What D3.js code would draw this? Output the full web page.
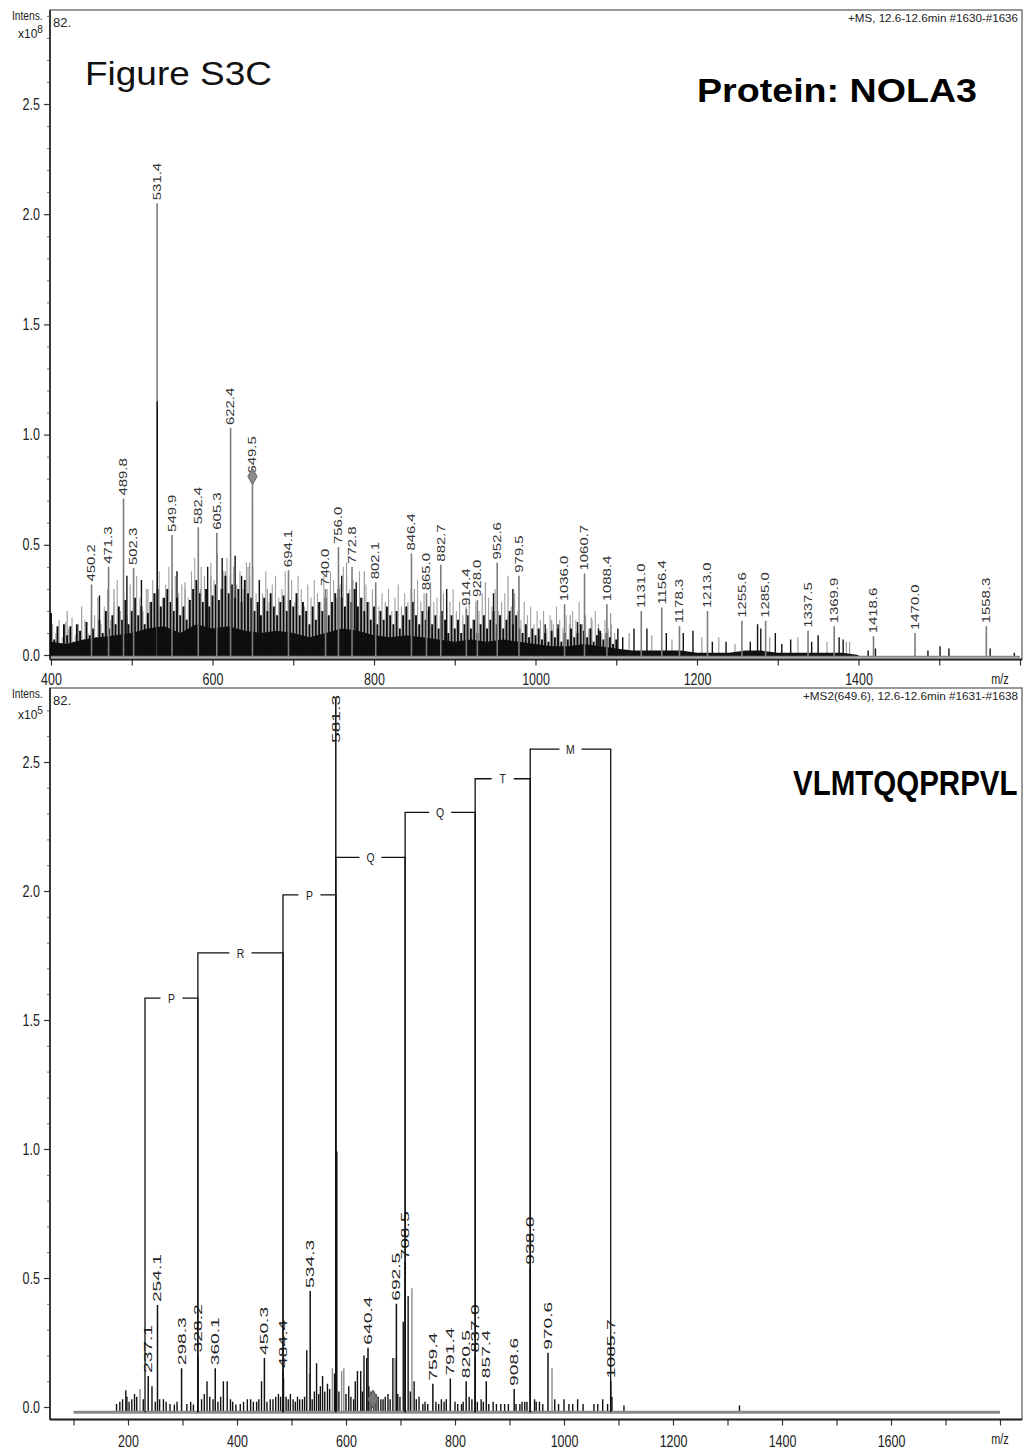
<!DOCTYPE html>
<html>
<head>
<meta charset="utf-8">
<script src="https://cdn.jsdelivr.net/npm/d3@7"></script>
<style>
body { margin: 0; background: #fff; }
text { font-family: "Liberation Sans", Arial, sans-serif; }
</style>
</head>
<body>
<div id="chart"></div>
<script>
// ---------- MS spectrum (top), intensity x10^8 ----------
var msLabeled = [
  [450.2,0.32],[471.3,0.40],[489.8,0.71],[502.3,0.395],[531.4,2.05],[549.9,0.545],
  [582.4,0.58],[605.3,0.555],[622.4,1.03],[649.5,0.81],[694.1,0.385],[740.0,0.30],
  [756.0,0.49],[772.8,0.40],[802.1,0.33],[846.4,0.46],[865.0,0.28],[882.7,0.41],
  [914.4,0.21],[928.0,0.25],[952.6,0.42],[979.5,0.36],[1036.0,0.23],[1060.7,0.37],
  [1088.4,0.23],[1131.0,0.20],[1156.4,0.215],[1178.3,0.13],[1213.0,0.20],[1255.6,0.155],
  [1285.0,0.155],[1337.5,0.11],[1369.9,0.13],[1418.6,0.085],[1470.0,0.10],[1558.3,0.13]
];
var msPrecursor = [649.5, 0.81];

// unlabeled peaks: [m/z, intensity, 0 = black / 1 = grey]
var msExtra = [
  [531.6,1.15,0],[535,0.20,1],[585,0.30,1],[644,0.40,1],[646,0.42,1],
  [420,0.20,1],[438,0.22,1],[460,0.27,0],[478,0.30,1],[494,0.36,0],[512,0.34,0],[520,0.30,1],
  [556,0.38,0],[566,0.33,1],[594,0.40,0],[598,0.36,1],[612,0.44,0],[616,0.38,1],[628,0.45,0],
  [636,0.36,0],[658,0.34,0],[668,0.30,1],[760,0.36,0],[766,0.42,1],[778,0.33,0],[788,0.38,1],
  [850,0.30,1],[870,0.33,1],[890,0.30,0],[938,0.33,1],[948,0.28,0],[966,0.36,1],[972,0.30,0],
  [974,0.28,1],[1012,0.14,0],[1020,0.16,1],[1028,0.14,0],[1043,0.18,1],[1052,0.15,0],
  [1069,0.17,1],[1078,0.12,0],[1093,0.19,1],[1102,0.12,0],
  [1108,0.08,0],[1116,0.10,1],[1122,0.12,0],[1138,0.12,0],[1144,0.09,1],[1162,0.10,0],
  [1169,0.07,1],[1183,0.10,0],[1195,0.11,0],[1206,0.08,1],[1219,0.06,0],[1227,0.08,1],
  [1236,0.06,0],[1247,0.05,1],[1266,0.06,0],[1275,0.14,0],[1279,0.12,0],[1290,0.08,1],
  [1297,0.10,0],[1305,0.05,0],[1316,0.07,0],[1325,0.08,1],[1342,0.06,0],[1350,0.09,0],
  [1361,0.06,1],[1376,0.08,0],[1381,0.07,0],[1385,0.06,1],[1389,0.06,1],[1412,0.02,0],
  [1421,0.03,0],[1486,0.02,0],[1501,0.04,0],[1512,0.03,0],[1563,0.03,0],[1593,0.01,0]
];

// dense baseline grass, hundredths of 10^8, black from 400 every 4, grey from 402 every 4
var msGrassBlack = [
  19,7,13,5,14,9,13,6,14,11,5,15,9,
  12,8,16,10,20,12,18,14,22,16,25,14,20,26,18,22,14,19,
  24,28,30,22,26,30,24,20,26,18,
  22,16,25,30,34,28,24,30,22,27,32,25,30,36,28,32,26,30,24,34,28,26,20,
  24,18,26,20,28,22,18,24,27,20,25,22,28,18,24,20,14,22,16,24,20,26,18,24,28,30,26,22,28,24,30,22,26,20,24,16,22,
  14,20,16,22,18,14,20,12,18,22,16,24,18,14,20,16,22,14,18,12,20,16,10,18,12,
  16,10,14,18,12,16,10,14,18,12,16,20,14,18,12,16,20,14,18,12,10,14,8,12,9,
  12,7,10,6,11,8,12,6,10,7,12,8,10,14,11,8,12,6,9,11,7,10,8,5,7
];
var msGrassGray = [
  14,10,16,8,15,12,17,9,14,11,16,10,20,
  18,26,14,22,30,16,24,34,20,28,18,32,22,36,26,20,30,24,
  34,28,38,26,32,40,30,36,28,32,
  30,26,38,44,32,40,36,28,42,34,46,30,38,44,36,40,32,38,30,42,36,40,28,
  34,28,38,24,32,36,26,30,38,28,34,24,36,30,22,32,26,34,28,24,36,30,38,34,26,32,40,36,30,34,28,38,26,32,24,30,26,
  22,28,24,30,20,26,32,22,28,24,30,26,34,24,28,20,30,24,26,18,28,22,24,30,20,
  24,18,22,26,16,24,20,28,18,26,22,30,20,24,28,18,22,26,20,16,24,18,22,14,20,
  16,20,12,18,14,22,16,12,18,14,20,16,24,14,18,12,16,20,14,10,16,12,14,10
];
// solid dark floor, hundredths of 10^8, every 20 from 400
var msBase = [6,5,7,8,9,10,12,13,10,14,12,13,11,10,11,10,8,10,12,11,9,8,9,8,7,6,7,6,7,6,
  5,4,4,5,4,3,2,2,2,2,1,1,1,2,2,1,1,1,1,1,0];

var msXTicks = [400,500,600,700,800,900,1000,1100,1200,1300,1400,1500,1600];
var msXLabels = [400,600,800,1000,1200,1400];
var msYTicks = [0,0.5,1,1.5,2,2.5];
var msYMinor = [0.1,0.2,0.3,0.4,0.6,0.7,0.8,0.9,1.1,1.2,1.3,1.4,1.6,1.7,1.8,1.9,2.1,2.2,2.3,2.4,2.6,2.7,2.8,2.9];

// ---------- MS2 spectrum (bottom), intensity x10^5 ----------
var ms2Labeled = [
  [237.1,0.12],[254.1,0.395],[298.3,0.15],[328.2,0.20],[360.1,0.15],[450.3,0.19],[484.4,0.14],
  [534.3,0.45],[581.3,2.75],[640.4,0.23],[692.5,0.40],[708.5,0.56],[759.4,0.09],[791.4,0.11],
  [820.5,0.10],[837.0,0.20],[857.4,0.10],[908.6,0.07],[938.0,0.54],[970.6,0.21],[1085.7,0.10]
];
var ms2Precursor = [649.6, 0.03];
var ms2Extra = [
  [179,0.012,0],[185,0.02,0],[190,0.03,0],[196,0.065,0],[198,0.04,0],[202,0.02,0],[207,0.03,0],
  [212,0.05,0],[216,0.04,0],[222,0.07,1],[228,0.03,0],[244,0.08,0],[250,0.02,0],[258,0.03,0],
  [265,0.03,0],[270,0.02,0],[277,0.012,0],[285,0.01,0],[290,0.02,0],[308,0.012,0],[315,0.02,0],
  [320,0.01,0],[335,0.03,0],[340,0.05,0],[345,0.10,0],[350,0.04,0],[356,0.03,0],[365,0.02,0],
  [370,0.04,0],[375,0.10,0],[382,0.10,0],[388,0.03,0],[392,0.02,0],[398,0.01,0],[406,0.012,0],
  [412,0.02,0],[419,0.03,0],[425,0.03,0],[430,0.02,0],[436,0.02,0],[440,0.03,0],[445,0.10,0],
  [455,0.02,0],[461,0.03,0],[466,0.03,0],[471,0.04,0],[476,0.05,0],[480,0.04,0],[486,0.11,1],
  [490,0.04,0],[494,0.03,0],[498,0.05,0],[503,0.03,0],[507,0.02,0],[511,0.04,0],[515,0.03,0],
  [520,0.03,0],[524,0.04,0],[528,0.22,0],[533,0.13,1],[538,0.03,0],[542,0.06,0],[546,0.17,0],
  [550,0.05,0],[553,0.08,0],[557,0.12,0],[561,0.06,0],[566,0.09,0],[570,0.07,0],[575,0.15,1],
  [579,0.13,0],[583.2,0.99,0],[587,0.06,0],[592,0.14,1],[596,0.15,1],[600,0.05,0],[605,0.08,0],
  [609,0.04,0],[614,0.03,0],[617,0.10,0],[621,0.14,0],[627,0.14,0],[630,0.06,0],[633,0.20,0],
  [638,0.19,0],[642,0.08,0],[646,0.06,0],[651,0.06,0],[655,0.05,0],[659,0.04,0],[664,0.03,0],
  [668,0.03,0],[672,0.04,0],[677,0.05,0],[681,0.03,0],[686,0.19,0],[690,0.19,1],[695,0.05,0],
  [699,0.04,0],[705,0.33,0],[714,0.43,0],[718,0.06,0],[721,0.46,1],[725,0.10,0],[729,0.03,0],
  [734,0.04,0],[741,0.012,0],[745,0.02,0],[750,0.012,0],[765,0.02,0],[770,0.012,0],[775,0.03,0],
  [780,0.02,0],[784,0.03,0],[800,0.02,0],[805,0.012,0],[812,0.012,0],[815,0.02,0],[826,0.04,0],
  [831,0.03,0],[841,0.02,0],[848,0.03,0],[852,0.02,0],[862,0.012,0],[870,0.02,0],[876,0.012,0],
  [884,0.012,0],[891,0.012,0],[898,0.012,0],[912,0.012,0],[919,0.012,0],[923,0.02,0],[928,0.02,0],
  [932,0.02,0],[946,0.03,0],[949,0.02,0],[955,0.02,0],[961,0.012,0],[978,0.15,1],[983,0.03,0],
  [990,0.012,0],[1000,0.03,0],[1009,0.012,0],[1016,0.012,0],[1025,0.03,0],[1035,0.012,0],
  [1055,0.012,0],[1062,0.012,0],[1071,0.03,0],[1080,0.012,0],[1088,0.04,0],[1110,0.006,0],[1322,0.006,0]
];

// y-ion ladder annotation
var ladderIons = [231.2, 328.2, 484.4, 581.3, 708.5, 837.0, 938.0, 1085.7];
var ladderResidues = ["P", "R", "P", "Q", "Q", "T", "M"];
var ladderHeights = [1.585, 1.76, 1.985, 2.13, 2.305, 2.435, 2.55];

var ms2XTicks = [100,200,300,400,500,600,700,800,900,1000,1100,1200,1300,1400,1500,1600,1700,1800];
var ms2XLabels = [200,400,600,800,1000,1200,1400,1600];
var ms2YTicks = [0,0.5,1,1.5,2,2.5];
var ms2YMinor = [0.1,0.2,0.3,0.4,0.6,0.7,0.8,0.9,1.1,1.2,1.3,1.4,1.6,1.7,1.8,1.9,2.1,2.2,2.3,2.4,2.6,2.7];

var width = 1033, height = 1452;
var svg = d3.select('#chart').append('svg')
    .attr('width', width)
    .attr('height', height);

var squeeze = 0.78;

function panel(opt) {
    var g = svg.append('g');
    var x = d3.scaleLinear().domain(opt.xDomain).range(opt.xRange);
    var y = d3.scaleLinear().domain([0, 2.5]).range(opt.yRange);

    g.append('clipPath').attr('id', opt.id)
        .append('rect')
        .attr('x', opt.left).attr('y', opt.top)
        .attr('width', opt.right - opt.left).attr('height', opt.bottom - opt.top);

    // frame
    g.append('rect')
        .attr('x', opt.left).attr('y', opt.top)
        .attr('width', opt.right - opt.left).attr('height', opt.bottom - opt.top)
        .attr('fill', 'none').attr('stroke', '#555').attr('stroke-width', 1.2);

    // x axis
    var xAxis = g.append('g')
        .attr('transform', 'translate(0,' + opt.bottom + ')')
        .call(d3.axisBottom(x).tickValues(opt.xTicks).tickSize(6).tickSizeOuter(0)
            .tickPadding(opt.xPad)
            .tickFormat(function (d) { return opt.xLabels.indexOf(d) >= 0 ? d : ''; }));
    xAxis.select('.domain').remove();
    xAxis.selectAll('line').attr('stroke', '#333').attr('stroke-width', 1.2);
    xAxis.selectAll('text').attr('font-size', 16).attr('fill', '#222')
        .attr('font-family', '"Liberation Sans", Arial, sans-serif')
        .attr('transform', 'scale(' + squeeze + ',1)');

    // y axis
    var yAxis = g.append('g')
        .attr('transform', 'translate(' + opt.left + ',0)')
        .call(d3.axisLeft(y).tickValues(opt.yTicks).tickSize(6).tickSizeOuter(0)
            .tickPadding(7).tickFormat(d3.format('.1f')));
    yAxis.select('.domain').remove();
    yAxis.selectAll('line').attr('stroke', '#333').attr('stroke-width', 1.2);
    yAxis.selectAll('text').attr('font-size', 16).attr('fill', '#222')
        .attr('font-family', '"Liberation Sans", Arial, sans-serif')
        .attr('transform', 'scale(' + squeeze + ',1)');

    var yMinor = g.append('g')
        .attr('transform', 'translate(' + opt.left + ',0)')
        .call(d3.axisLeft(y).tickValues(opt.yMinor).tickSize(3).tickSizeOuter(0).tickFormat(''));
    yMinor.select('.domain').remove();
    yMinor.selectAll('line').attr('stroke', '#777');

    // axis lines
    g.append('line').attr('x1', opt.left).attr('x2', opt.left)
        .attr('y1', opt.top).attr('y2', opt.bottom)
        .attr('stroke', '#222').attr('stroke-width', 1.6);
    g.append('line').attr('x1', opt.left).attr('x2', opt.right)
        .attr('y1', opt.bottom).attr('y2', opt.bottom)
        .attr('stroke', '#222').attr('stroke-width', 2);

    g.append('text').attr('x', opt.right - 22).attr('y', opt.bottom + 25)
        .attr('font-size', 14).attr('fill', '#222').attr('text-anchor', 'middle')
        .attr('transform', 'translate(' + (opt.right - 22) * (1 - squeeze) + ',0) scale(' + squeeze + ',1)')
        .text('m/z');

    // corner labels
    g.append('text').attr('x', 12).attr('y', opt.top + 10)
        .attr('font-size', 12).attr('fill', '#222')
        .attr('transform', 'translate(' + 12 * 0.15 + ',0) scale(0.85,1)')
        .text('Intens.');
    var ex = g.append('text').attr('x', 18).attr('y', opt.top + opt.expDy)
        .attr('font-size', 12).attr('fill', '#222');
    ex.append('tspan').text('x10');
    ex.append('tspan').attr('dy', -5).attr('font-size', 10).text(opt.exp);
    g.append('text').attr('x', opt.left + 3).attr('y', opt.top + 17)
        .attr('font-size', 13).attr('fill', '#222').text('82.');

    g.append('text').attr('x', opt.right - 4 - opt.headerLen).attr('y', opt.top + 12)
        .attr('font-size', 11).attr('fill', '#222')
        .attr('textLength', opt.headerLen).attr('lengthAdjust', 'spacingAndGlyphs')
        .text(opt.header);

    var plot = g.append('g').attr('clip-path', 'url(#' + opt.id + ')');
    return { g: g, plot: plot, x: x, y: y };
}

function peaks(layer, data, x, y, base, color, w) {
    layer.append('g').selectAll('line').data(data).enter().append('line')
        .attr('x1', function (d) { return x(d[0]); })
        .attr('x2', function (d) { return x(d[0]); })
        .attr('y1', y(base))
        .attr('y2', function (d) { return y(d[1]); })
        .attr('stroke', color)
        .attr('stroke-width', w);
}

function peakLabels(layer, data, x, y, size, stretch, color, minY) {
    layer.append('g').selectAll('text').data(data).enter().append('text')
        .attr('transform', function (d) {
            var len = String(d[0].toFixed(1)).length * size * 0.53 * stretch;
            var top = y(d[1]) - 3;
            if (top - len < minY) top = minY + len;
            return 'translate(' + x(d[0]) + ',' + top + ') rotate(-90) scale(' + stretch + ',1)';
        })
        .attr('dy', '0.36em')
        .attr('font-size', size)
        .attr('fill', color)
        .text(function (d) { return d[0].toFixed(1); });
}

// ---------- top panel ----------
var msPanel = panel({
    id: 'clipTop', left: 50, right: 1022, top: 10, bottom: 659.5,
    xDomain: [400, 1600], xRange: [51, 1020], yRange: [655, 104],
    xTicks: msXTicks, xLabels: msXLabels, yTicks: msYTicks, yMinor: msYMinor,
    xPad: 8, exp: '8', expDy: 28,
    header: '+MS, 12.6-12.6min #1630-#1636', headerLen: 170
});

var msBaseY = -0.008;
var grayPts = msGrassGray.map(function (v, i) { return [402 + 4 * i, v / 100]; });
var blackPts = msGrassBlack.map(function (v, i) { return [400 + 4 * i, v / 100]; });
var basePts = msBase.map(function (v, i) { return [400 + 20 * i, v / 100]; });

peaks(msPanel.plot, grayPts, msPanel.x, msPanel.y, msBaseY, '#a0a0a0', 1.1);
peaks(msPanel.plot, msExtra.filter(function (d) { return d[2] === 1; }), msPanel.x, msPanel.y, msBaseY, '#9a9a9a', 1.2);
msPanel.plot.append('path')
    .datum(basePts)
    .attr('fill', '#111')
    .attr('d', d3.area()
        .x(function (d) { return msPanel.x(d[0]); })
        .y0(msPanel.y(msBaseY))
        .y1(function (d) { return msPanel.y(d[1]); }));
peaks(msPanel.plot, blackPts, msPanel.x, msPanel.y, msBaseY, '#0d0d0d', 1.9);
peaks(msPanel.plot, msLabeled, msPanel.x, msPanel.y, msBaseY, '#7c7c7c', 1.6);
peaks(msPanel.plot, msExtra.filter(function (d) { return d[2] === 0; }), msPanel.x, msPanel.y, msBaseY, '#111', 1.4);
msPanel.plot.append('line')
    .attr('x1', msPanel.x(400)).attr('x2', msPanel.x(1600))
    .attr('y1', msPanel.y(msBaseY)).attr('y2', msPanel.y(msBaseY))
    .attr('stroke', '#888').attr('stroke-width', 2);
peakLabels(msPanel.plot, msLabeled, msPanel.x, msPanel.y, 10.5, 1.42, '#333', 14);
msPanel.plot.append('path')
    .attr('transform', 'translate(' + msPanel.x(msPrecursor[0]) + ',' + msPanel.y(msPrecursor[1]) + ')')
    .attr('d', d3.symbol().type(d3.symbolDiamond).size(75)())
    .attr('fill', '#8a8a8a').attr('stroke', '#666');

svg.append('text').attr('x', 85).attr('y', 85)
    .attr('font-size', 33).attr('fill', '#111')
    .attr('textLength', 187).attr('lengthAdjust', 'spacingAndGlyphs')
    .text('Figure S3C');
svg.append('text').attr('x', 697).attr('y', 102)
    .attr('font-size', 34).attr('font-weight', 'bold').attr('fill', '#000')
    .attr('textLength', 280).attr('lengthAdjust', 'spacingAndGlyphs')
    .text('Protein: NOLA3');

// ---------- bottom panel ----------
var ms2Panel = panel({
    id: 'clipBot', left: 50, right: 1022, top: 688, bottom: 1419.5,
    xDomain: [100, 1800], xRange: [73.5, 1000], yRange: [1407, 762],
    xTicks: ms2XTicks, xLabels: ms2XLabels, yTicks: ms2YTicks, yMinor: ms2YMinor,
    xPad: 10, exp: '5', expDy: 31,
    header: '+MS2(649.6), 12.6-12.6min #1631-#1638', headerLen: 215
});

var ms2BaseY = -0.02;
peaks(ms2Panel.plot, ms2Extra.filter(function (d) { return d[2] === 1; }), ms2Panel.x, ms2Panel.y, ms2BaseY, '#8c8c8c', 1.4);
peaks(ms2Panel.plot, ms2Extra.filter(function (d) { return d[2] === 0; }), ms2Panel.x, ms2Panel.y, ms2BaseY, '#111', 1.4);
peaks(ms2Panel.plot, ms2Labeled, ms2Panel.x, ms2Panel.y, ms2BaseY, '#111', 1.5);
ms2Panel.plot.append('line')
    .attr('x1', ms2Panel.x(100)).attr('x2', ms2Panel.x(1800))
    .attr('y1', ms2Panel.y(ms2BaseY)).attr('y2', ms2Panel.y(ms2BaseY))
    .attr('stroke', '#8a8a8a').attr('stroke-width', 3);
ms2Panel.plot.append('path')
    .attr('transform', 'translate(' + ms2Panel.x(ms2Precursor[0]) + ',' + ms2Panel.y(ms2Precursor[1]) + ')')
    .attr('d', d3.symbol().type(d3.symbolDiamond).size(95)())
    .attr('fill', '#777').attr('stroke', '#555');
peakLabels(ms2Panel.plot, ms2Labeled, ms2Panel.x, ms2Panel.y, 11, 1.75, '#222', 692);

// ladder brackets
var ladder = ms2Panel.plot.append('g');
ladderResidues.forEach(function (r, i) {
    var xa = ms2Panel.x(ladderIons[i]), xb = ms2Panel.x(ladderIons[i + 1]);
    var yy = ms2Panel.y(ladderHeights[i]), xm = (xa + xb) / 2, gap = 11, yb = ms2Panel.y(ms2BaseY);
    ladder.append('path')
        .attr('d', 'M' + xa + ',' + yb + 'V' + yy + 'H' + (xm - gap) +
                   'M' + (xm + gap) + ',' + yy + 'H' + xb + 'V' + yb)
        .attr('fill', 'none').attr('stroke', '#111').attr('stroke-width', 1.3);
    ladder.append('text')
        .attr('transform', 'translate(' + xm + ',' + yy + ') scale(0.8,1)')
        .attr('dy', '0.36em').attr('text-anchor', 'middle')
        .attr('font-size', 13).attr('fill', '#222')
        .text(r);
});

svg.append('text')
    .attr('transform', 'translate(793,795) scale(1,1.2)')
    .attr('font-size', 29.5).attr('font-weight', 'bold').attr('fill', '#000')
    .text('VLMTQQPRPVL');
</script>
</body>
</html>
